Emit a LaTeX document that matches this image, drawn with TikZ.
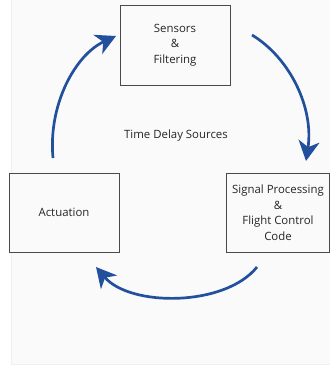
\documentclass[tikz,border=0pt]{standalone}
\usepackage{fontspec}
\setmainfont{Open Sans}
\usetikzlibrary{arrows.meta}
\definecolor{loopblue}{HTML}{22509C}
\definecolor{boxline}{HTML}{4A4A4A}
\definecolor{paper}{HTML}{FAFAFA}
\definecolor{frameline}{HTML}{EFEFEF}
\tikzset{
  stage/.style={draw=boxline, line width=0.8pt, fill=paper, align=center,
    inner sep=0pt, font=\fontsize{11.4}{15.5}\selectfont, text=black!85},
  flow/.style={draw=loopblue, line width=2.7pt,
    -{Stealth[length=20pt,width=21pt,inset=6pt]}},
}
\begin{document}
\begin{tikzpicture}[x=1pt,y=-1pt]
  \useasboundingbox (0,0) rectangle (330,369);
  % page background and faint panel edge
  \fill[white] (0,0) rectangle (330,369);
  \fill[paper] (11,0) rectangle (330,364);
  \draw[frameline, line width=1pt] (11,0) -- (11,364) -- (330,364);

  % the three stages of the loop
  \node[stage, minimum width=110pt, minimum height=80pt] (sens) at (175,45)
    {Sensors\\\&\\Filtering};
  \node[stage, minimum width=103pt, minimum height=79pt] (proc) at (278,212.5)
    {Signal Processing\\\&\\Flight Control\\Code};
  \node[stage, minimum width=110pt, minimum height=79pt] (act) at (64,212.5)
    {Actuation};

  \node[font=\fontsize{11.4}{14}\selectfont, text=black!85] (title) at (176,136)
    {Time Delay Sources};

  % arc end points
  \coordinate (a1s) at (252,35);  \coordinate (a1e) at (306,161);
  \coordinate (a2s) at (257,267); \coordinate (a2e) at (96,267);
  \coordinate (a3s) at (53,158);  \coordinate (a3e) at (116,36);

  \draw[flow] (a1s) .. controls (290,58) and (314,108) .. (a1e);
  \draw[flow] (a2s) .. controls (225,307) and (130,307) .. (a2e);
  \draw[flow] (a3s) .. controls (48,105) and (75,55) .. (a3e);
\end{tikzpicture}
\end{document}
